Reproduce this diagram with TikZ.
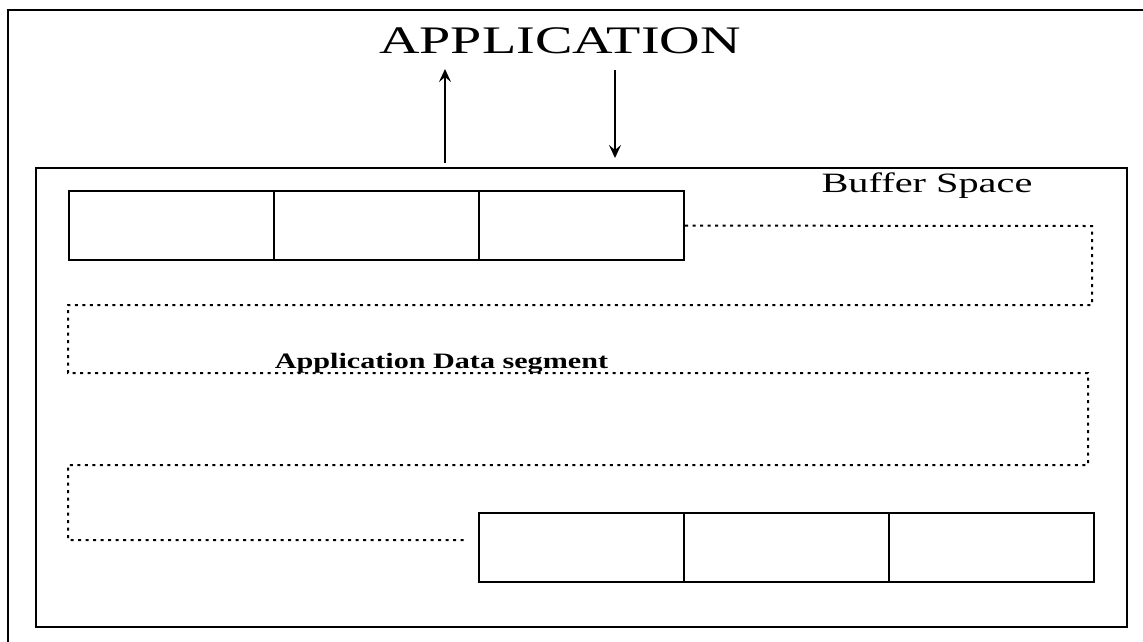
\documentclass[tikz,border=0pt]{standalone}
\usepackage{fontspec}
\setmainfont{Liberation Serif}
\usetikzlibrary{arrows.meta}
\tikzset{
  cell/.style={draw, line width=2.2pt, minimum width=205pt, minimum height=69pt, inner sep=0pt, anchor=north west},
  seg/.style={line width=2pt, dash pattern=on 3pt off 4.5pt},
  arr/.style={line width=2.2pt, -{Stealth[length=13pt,width=12pt,inset=5pt]}},
  lbl/.style={inner sep=0pt, anchor=base}
}
\begin{document}
\begin{tikzpicture}[x=1pt,y=-1pt]
\useasboundingbox (0,0) rectangle (1143,641);
\clip (0,0) rectangle (1143,641);
\fill[white] (0,0) rectangle (1143,641);
% outer frame (cut by the image edge on the right and bottom)
\draw[line width=2pt] (8,10) rectangle (1170,670);
% buffer space frame
\node[draw, line width=2.4pt, minimum width=1091pt, minimum height=459pt, inner sep=0pt, anchor=north west] (buf) at (35,167) {};
% labels
\node[lbl] (app) at (560,53) {\fontsize{39}{45}\selectfont\scalebox{1.44}[1]{APPLICATION}};
\node[lbl] (bs) at (927,192) {\fontsize{28}{32}\selectfont\scalebox{1.44}[1]{Buffer Space}};
% cells
\node[cell] (t1) at (68,190) {};
\node[cell] (t2) at (273,190) {};
\node[cell] (t3) at (478,190) {};
\node[cell] (b1) at (478,512) {};
\node[cell] (b2) at (683,512) {};
\node[cell] (b3) at (888,512) {};
% dotted data segment path
\coordinate (segend) at (465,540);
\draw[seg] (t3.east) -- (1092,226) -- (1092,305) -- (68,305) -- (68,373) -- (1088,373) -- (1088,465) -- (68,465) -- (68,540) -- (segend);
\node[lbl] (ads) at (441.5,368) {\fontsize{22}{26}\selectfont\scalebox{1.37}[1]{\textbf{Application Data segment}}};
% arrows
\coordinate (upfrom) at (445,163);
\coordinate (upto) at (445,69);
\coordinate (dnfrom) at (615,70);
\coordinate (dnto) at (615,158);
\draw[arr] (upfrom) -- (upto);
\draw[arr] (dnfrom) -- (dnto);
\end{tikzpicture}
\end{document}
